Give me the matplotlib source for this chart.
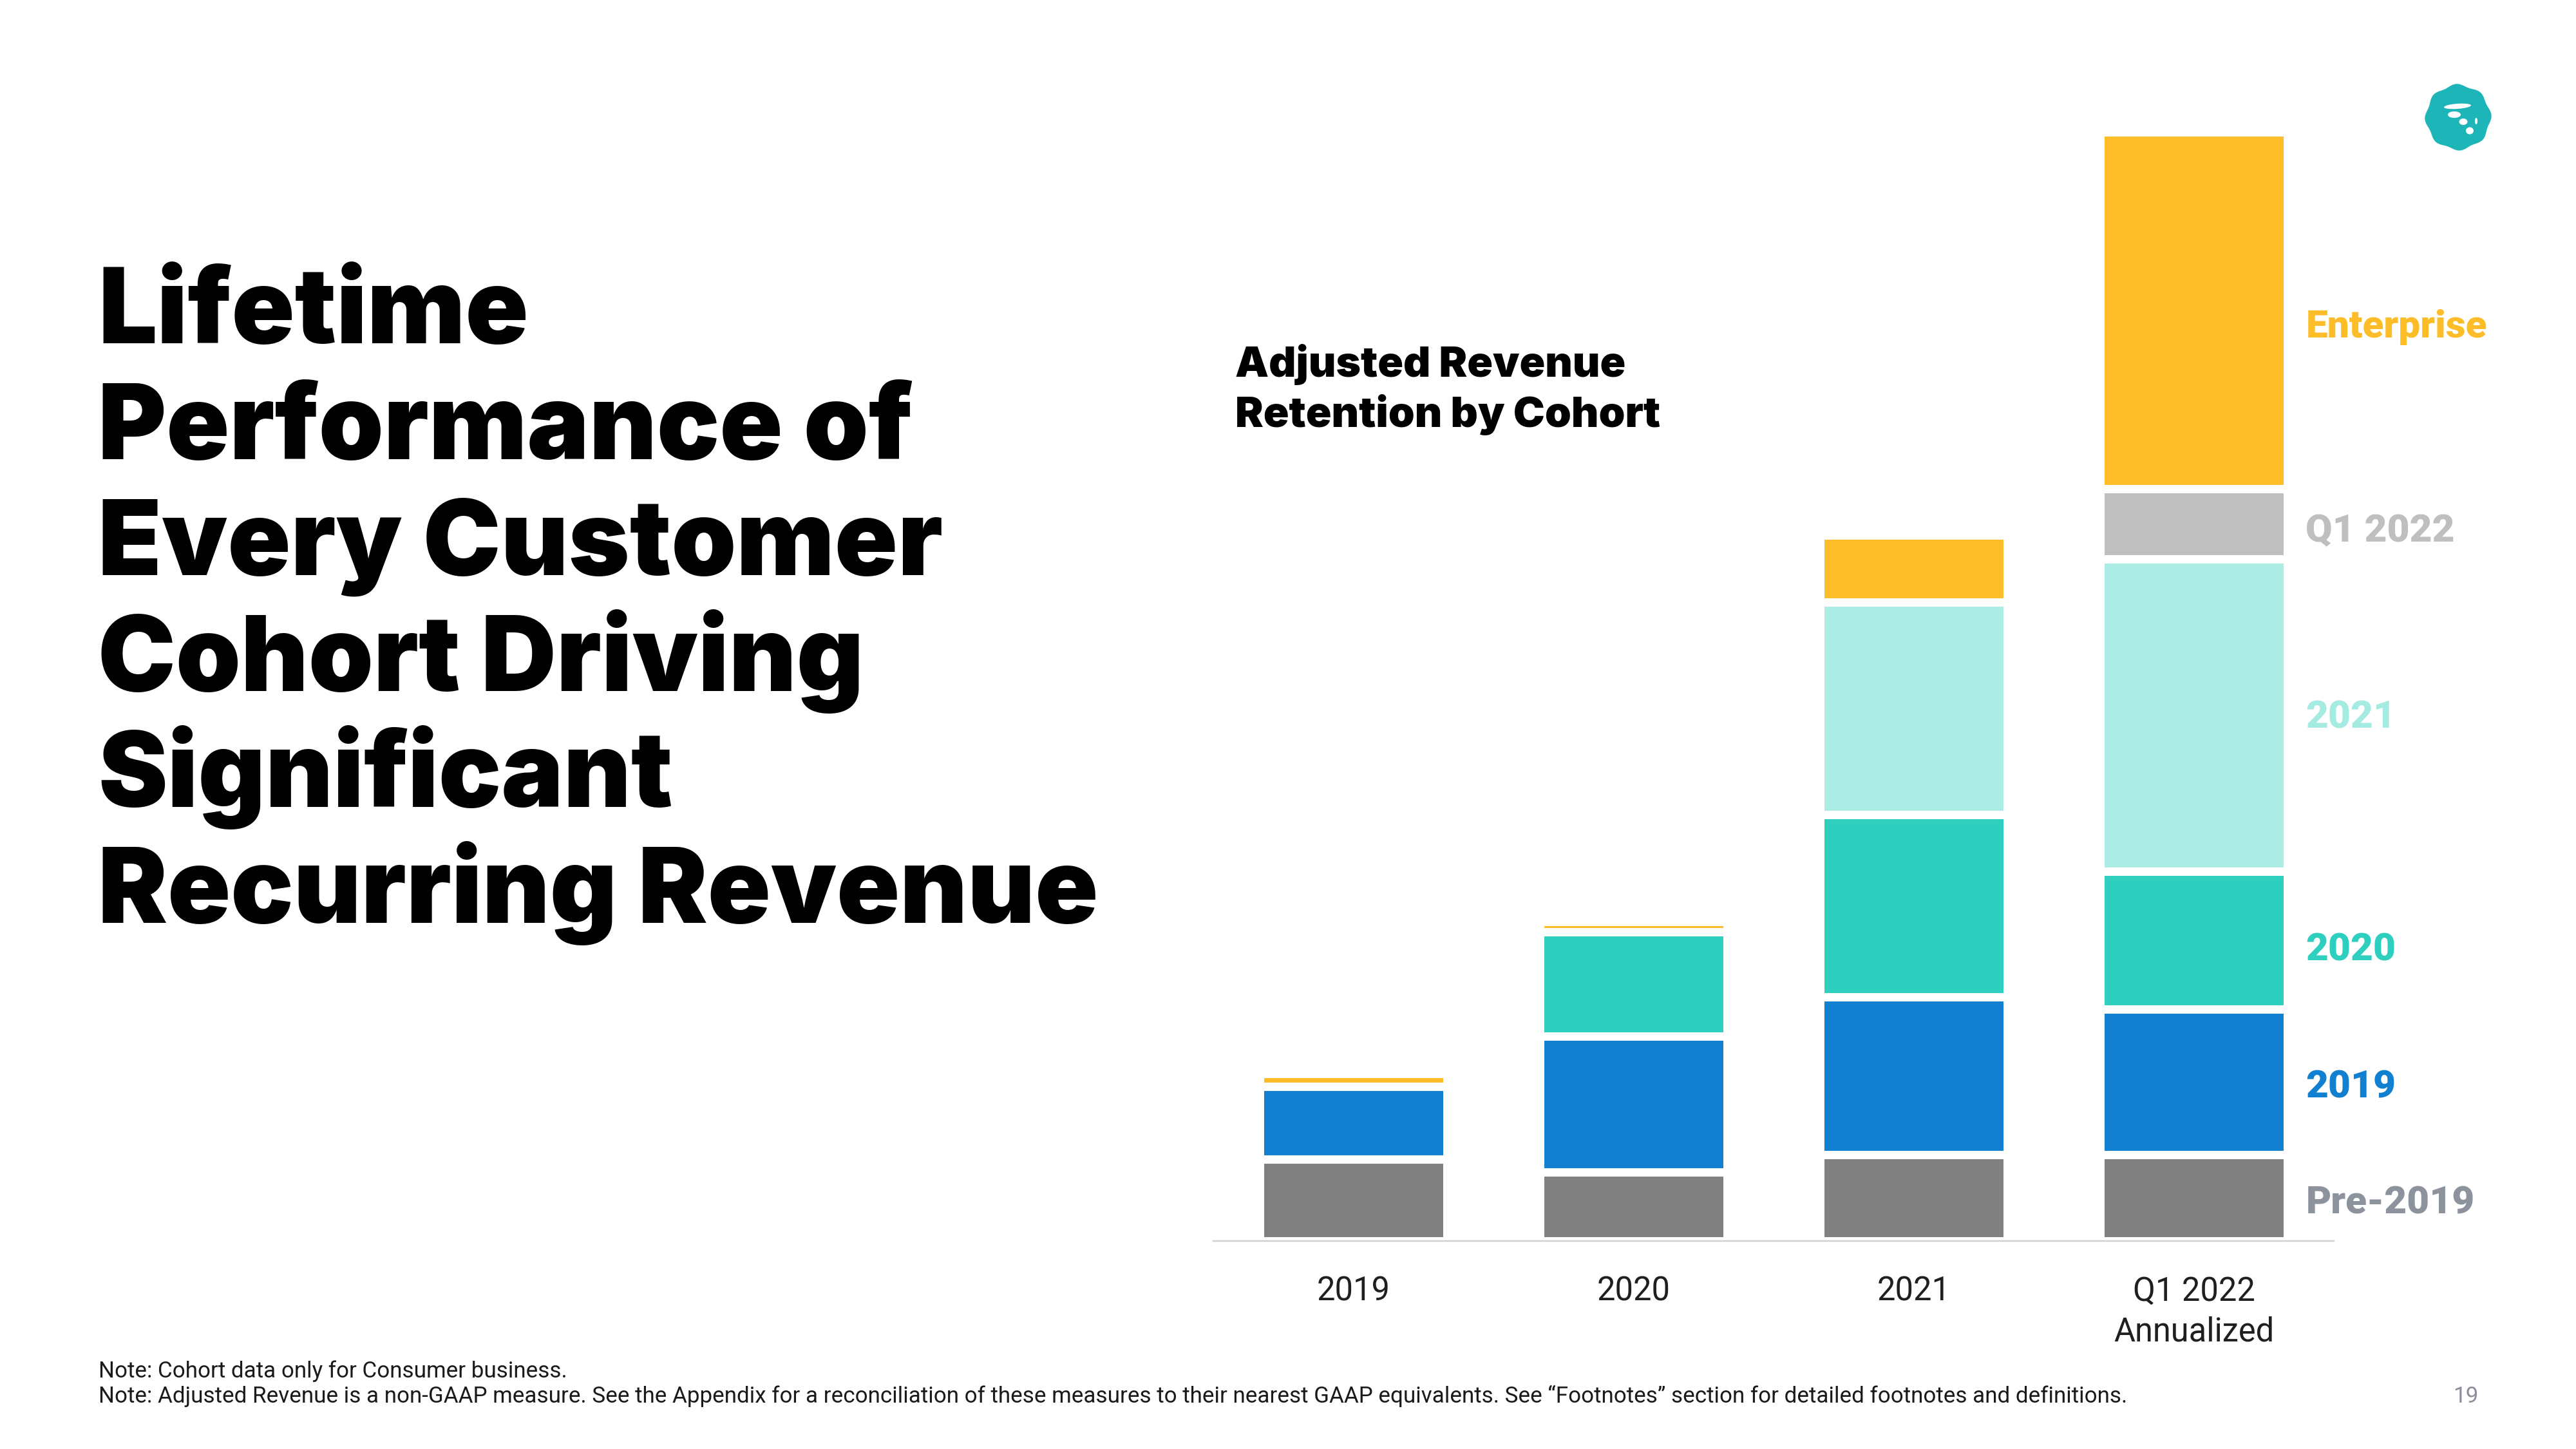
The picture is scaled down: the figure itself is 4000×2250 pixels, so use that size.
import numpy as np
import matplotlib
matplotlib.use("Agg")
import matplotlib.pyplot as plt
from matplotlib.patches import Polygon, Ellipse

# values read off the bar segments (relative units, no axis shown)
periods = ["2019", "2020", "2021", "Q1 2022\nAnnualized"]
cohorts = ["Pre-2019", "2019", "2020", "2021", "Q1 2022", "Enterprise"]
pre_2019 = [12.7, 10.7, 13.4, 13.4]
cohort_2019 = [11.3, 21.1, 24.5, 22.6]
cohort_2020 = [0.0, 16.2, 28.3, 21.4]
cohort_2021 = [0.0, 0.0, 33.0, 48.5]
cohort_q1_2022 = [0.0, 0.0, 0.0, 10.9]
enterprise = [2.0, 1.6, 10.4, 55.4]

bar_colors = ["#808080", "#1180D0", "#2ECFBF", "#ADECE5", "#BFBFBF", "#FDBD29"]
label_colors = ["#8C939D", "#1180D0", "#2ECFBF", "#A6EBE2", "#BFBFBF", "#FDBD29"]
label_nudge = [0, 0, -2, 1.4, -1, -5]  # extra vertical offset in pt

title_lines = ["Lifetime", "Performance of", "Every Customer",
               "Cohort Driving", "Significant", "Recurring Revenue"]
subtitle_lines = ["Adjusted Revenue", "Retention by Cohort"]
notes = [
    "Note: Cohort data only for Consumer business.",
    "Note: Adjusted Revenue is a non-GAAP measure. See the Appendix for a reconciliation of these "
    "measures to their nearest GAAP equivalents. See \u201cFootnotes\u201d section for detailed "
    "footnotes and definitions.",
]
page_number = "19"

plt.rcParams["font.family"] = ["Roboto", "DejaVu Sans"]
HEAVY = ["Inter", "DejaVu Sans"]

W, H = 4000, 2250
fig = plt.figure(figsize=(16, 9), dpi=250)

# overlay in pixel coords for the slide text and logo
over = fig.add_axes([0, 0, 1, 1])
over.set_xlim(0, W)
over.set_ylim(H, 0)
over.axis("off")
over.patch.set_visible(False)

# stacked bars
ax = fig.add_axes([1884 / W, 1 - 1926.5 / H, 1740 / W, 1800 / H])
x = np.arange(len(periods))
series = [pre_2019, cohort_2019, cohort_2020, cohort_2021, cohort_q1_2022, enterprise]
bottom = np.zeros(len(periods))
for vals, col in zip(series, bar_colors):
    ax.bar(x, vals, width=0.667, bottom=bottom, color=col,
           edgecolor="white", linewidth=3.75)
    bottom += np.array(vals)

ax.set_xlim(-0.5, 3.5)
ax.set_ylim(0, 180)
for s in ["top", "right", "left"]:
    ax.spines[s].set_visible(False)
ax.spines["bottom"].set_color("#d0d0d0")
ax.spines["bottom"].set_linewidth(0.7)
ax.set_yticks([])
ax.set_xticks(x, periods)
ax.tick_params(axis="x", length=0, pad=15.5, labelsize=14.6, labelcolor="#1f1f1f")
for lbl in ax.get_xticklabels():
    lbl.set_linespacing(1.35)
ax.patch.set_visible(False)

# cohort labels next to the last bar
last = np.array([s[-1] for s in series])
centers = np.cumsum(last) - last / 2
for name, yc, col, dy in zip(cohorts, centers, label_colors, label_nudge):
    ax.annotate(name, (3.40, yc), xytext=(0, -2.6 + dy), textcoords="offset points",
                ha="left", va="center", fontsize=17.4, fontweight="black", color=col)

# headline
for i, line in enumerate(title_lines):
    over.text(152, 533 + i * 180, line, ha="left", va="baseline", family=HEAVY,
              fontsize=46.6, fontweight="black", color="black")

for i, line in enumerate(subtitle_lines):
    over.text(1918, 585 + i * 78, line, ha="left", va="baseline", family=HEAVY,
              fontsize=18.9, fontweight="black", color="black")

for i, line in enumerate(notes):
    over.text(153, 2139 + i * 39, line, ha="left", va="baseline",
              fontsize=10.1, color="#1a1a1a")

over.text(3829, 2178, page_number, ha="center", va="baseline",
          fontsize=10.1, color="#8A8F99")

# logo badge
th = np.linspace(0, 2 * np.pi, 400)
r = 50 * (1 + 0.035 * np.cos(8 * th + np.pi / 8))
over.add_patch(Polygon(np.column_stack([3817 + r * np.cos(th), 182 + r * np.sin(th)]),
                       closed=True, color="#1EB5B8", lw=0))
for cx, cy, w, h, a in [(3816, 165, 42, 8, -4), (3811, 178, 20, 10, 0),
                        (3825, 189, 13, 10, 0), (3845, 188, 4, 10, 0),
                        (3835, 203, 12, 11, 0)]:
    over.add_patch(Ellipse((cx, cy), w, h, angle=a, color="white", lw=0))

fig.savefig("out.png", dpi=250, facecolor="white")
